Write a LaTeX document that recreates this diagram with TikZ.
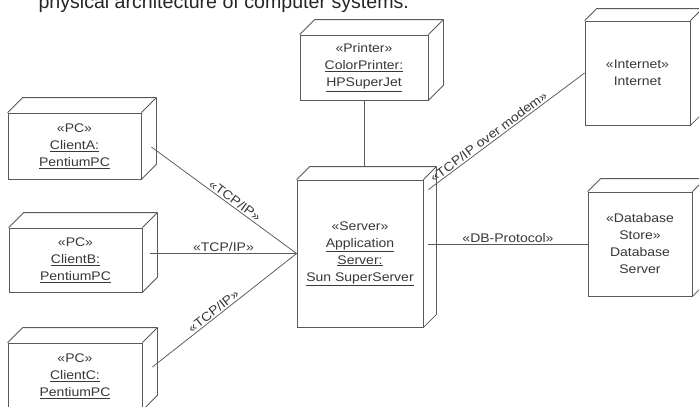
\documentclass[tikz,border=0pt]{standalone}
\usepackage{fontspec}
\setmainfont{Liberation Sans}
\newfontfamily\boxfont{Liberation Sans}[FakeStretch=1.12]
\usetikzlibrary{calc}
\definecolor{edgegray}{gray}{0.35}
\definecolor{textgray}{gray}{0.22}
\tikzset{
  unode/.style={draw=edgegray, line width=0.8bp, rectangle, inner sep=0pt,
    align=center, text=textgray,
    font=\boxfont\fontsize{12.5bp}{17bp}\selectfont},
  edge/.style={draw=edgegray, line width=0.8bp, line join=round},
  link/.style={draw=edgegray, line width=0.75bp},
  lbl/.style={text=textgray, inner sep=1.5bp, sloped,
    font=\boxfont\fontsize{12.5bp}{15bp}\selectfont},
}
% top and right faces of a UML node box
\newcommand\cubefaces[2]{%
  \draw[edge] (#1.north west) -- ++(#2,-#2)
    -- ($(#1.north east)+(#2,-#2)$) -- ($(#1.south east)+(#2,-#2)$)
    -- (#1.south east);
  \draw[edge] (#1.north east) -- ++(#2,-#2);}
\newcommand\ul[1]{\underline{#1}}
\begin{document}
\begin{tikzpicture}[x=1bp, y=-1bp]
\useasboundingbox (0,0) rectangle (699,406);
\fill[white] (0,0) rectangle (699,406);

\node[anchor=base west, font=\fontsize{19.6bp}{22bp}\selectfont, text=black!85]
  (title) at (35,8) {physical architecture of computer systems.};

% nodes (front faces)
\node[unode, minimum width=133bp, minimum height=66bp] (ca) at (74.5,146)
  {«PC»\\ \ul{ClientA:}\\ \ul{PentiumPC}};
\node[unode, minimum width=133bp, minimum height=64bp] (cb) at (75.5,260)
  {«PC»\\ \ul{ClientB:}\\ \ul{PentiumPC}};
\node[unode, minimum width=134bp, minimum height=67bp] (cc) at (75,376.5)
  {«PC»\\ \ul{ClientC:}\\ \ul{PentiumPC}};
\node[unode, minimum width=128bp, minimum height=65bp] (pr) at (364,67.5)
  {«Printer»\\ \ul{ColorPrinter:}\\ \ul{HPSuperJet}};
\node[unode, minimum width=126bp, minimum height=147bp] (srv) at (360,253.5)
  {«Server»\\ \ul{Application}\\ \ul{Server:}\\ \ul{Sun SuperServer}};
\node[unode, minimum width=105bp, minimum height=104bp] (inet) at (637.5,73)
  {«Internet»\\ Internet};
\node[unode, minimum width=104bp, minimum height=104bp] (db) at (640,244)
  {«Database\\ Store»\\ Database\\ Server};

\cubefaces{ca}{15}
\cubefaces{cb}{15}
\cubefaces{cc}{15}
\cubefaces{pr}{15}
\cubefaces{srv}{13}
\cubefaces{inet}{12}
\cubefaces{db}{13}

% attachment points on the side and top faces
\coordinate (caside) at ($(ca.east)+(10,1)$);
\coordinate (cbside) at ($(cb.east)+(8,0)$);
\coordinate (ccside) at ($(cc.east)+(10,-9.5)$);
\coordinate (srvtop) at ($(srv.north)+(0,-13)$);
\coordinate (srvup) at ($(srv.north east)+(5,10)$);
\coordinate (srvside) at ($(srv.east)+(5,0)$);

% connectors
\draw[link] (caside) -- node[lbl, above, pos=0.55] {«TCP/IP»} (srv.west);
\draw[link] (cbside |- srv.west) -- node[lbl, above] {«TCP/IP»} (srv.west);
\draw[link] (ccside) -- node[lbl, above, pos=0.45] {«TCP/IP»} (srv.west);
\draw[link] (pr.south) -- (pr.south |- srvtop);
\draw[link] (srvup) -- node[lbl, above, pos=0.41] {«TCP/IP over modem»} (inet.west);
\draw[link] (srvside |- db.west) -- node[lbl, above] {«DB-Protocol»} (db.west);
\end{tikzpicture}
\end{document}
